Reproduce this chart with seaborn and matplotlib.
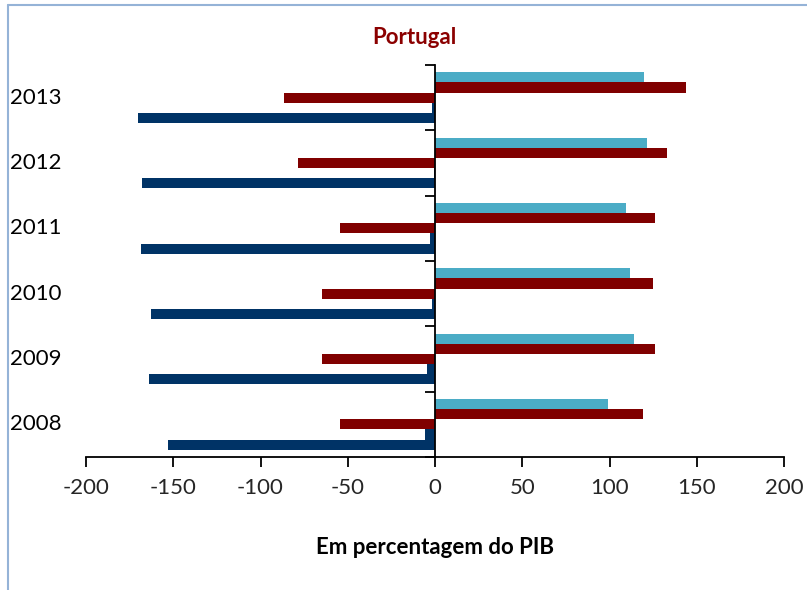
import matplotlib.pyplot as plt
import matplotlib.transforms as mtransforms
from matplotlib.lines import Line2D
import seaborn as sns
import pandas as pd
import numpy as np

# --- dados (leitura aproximada do gráfico) ---
anos = ['2013', '2012', '2011', '2010', '2009', '2008']
serie_a = [120, 121.5, 109.5, 112, 114, 99]          # azul claro
serie_b = [144, 133, 126, 125, 126, 119]             # vermelho escuro (+)
serie_c = [-86.5, -78.5, -54.5, -65, -65, -54.5]     # vermelho escuro (-)
serie_d = [-1.5, -0.3, -3, -1.5, -4.5, -6]           # azul escuro (pequena)
serie_e = [-170, -168, -168.5, -163, -164, -153]     # azul escuro (-)

series = ['A', 'B', 'C', 'D', 'E']
cores = {'A': '#4BACC6', 'B': '#800000', 'C': '#800000',
         'D': '#003366', 'E': '#003366'}

df = pd.concat([
    pd.DataFrame({'Ano': anos, 'Valor': vals, 'Serie': s})
    for s, vals in zip(series, [serie_a, serie_b, serie_c, serie_d, serie_e])
])

# --- estilo ---
sns.set_theme(style="white")
plt.rcParams['font.family'] = ['Lato', 'DejaVu Sans']
plt.rcParams['axes.unicode_minus'] = False

fig = plt.figure(figsize=(8.07, 5.9), dpi=100)
ax = fig.add_axes([86 / 807, 1 - 457 / 590, (784 - 86) / 807, (457 - 65) / 590])

sns.barplot(data=df, x='Valor', y='Ano', hue='Serie', order=anos,
            hue_order=series, palette=cores, orient='h', width=0.78,
            legend=False, saturation=1, linewidth=0, ax=ax)

ax.set_xlim(-200, 200)
ax.set_ylim(5.5, -0.5)
ax.set_xticks(np.arange(-200, 201, 50))
ax.set_yticks(np.arange(-0.5, 6, 1))
ax.set_yticklabels([])
ax.set_xlabel('')
ax.set_ylabel('')

for side in ['top', 'right']:
    ax.spines[side].set_visible(False)
ax.spines['left'].set_position(('data', 0))
for side in ['left', 'bottom']:
    ax.spines[side].set_color('black')
    ax.spines[side].set_linewidth(1.3)
ax.tick_params(axis='x', direction='out', length=7, width=1.3,
               color='black', labelsize=16, pad=8, bottom=True)
ax.tick_params(axis='y', direction='out', length=7, width=1.3,
               color='black', left=True)

# rótulos dos anos à esquerda
trans = mtransforms.blended_transform_factory(fig.transFigure, ax.transData)
for i, ano in enumerate(anos):
    ax.text(10 / 807, i, ano, transform=trans, ha='left', va='center',
            fontsize=16, color='black')

fig.text(414 / 807, 1 - 38 / 590, 'Portugal', ha='center', va='center',
         fontsize=16, fontweight='bold', color='#8B0000')
fig.text(435 / 807, 1 - 548 / 590, 'Em percentagem do PIB', ha='center',
         va='center', fontsize=16, fontweight='bold', color='black')

# moldura do gráfico (apenas esquerda e topo visíveis)
fig.add_artist(Line2D([8 / 807, 8 / 807], [0, 1 - 5 / 590],
                      transform=fig.transFigure, color='#95B3D7', lw=1.5))
fig.add_artist(Line2D([8 / 807, 1], [1 - 5 / 590, 1 - 5 / 590],
                      transform=fig.transFigure, color='#95B3D7', lw=1.5))

fig.savefig('out.png', dpi=100, facecolor='white')
